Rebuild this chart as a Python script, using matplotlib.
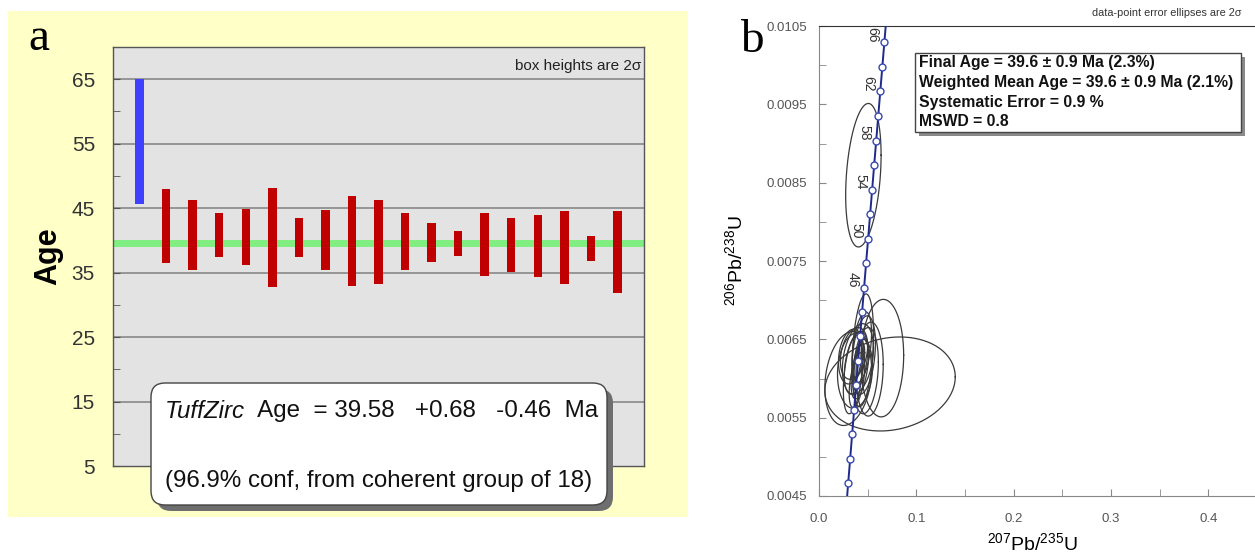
import numpy as np
import matplotlib
matplotlib.use('Agg')
import matplotlib.pyplot as plt
from matplotlib.patches import FancyBboxPatch, Rectangle
from matplotlib.transforms import IdentityTransform
from matplotlib.ticker import MultipleLocator, FormatStrFormatter

# ---- panel a: TuffZirc age boxes (2 sigma)
grain = list(range(1, 20))
age_hi = [65.1, 47.9, 46.3, 44.3, 44.8, 48.1, 43.4, 44.7, 46.9, 46.3,
          44.2, 42.7, 41.5, 44.2, 43.4, 44.0, 44.5, 40.7, 44.5]
age_lo = [45.6, 36.5, 35.4, 37.5, 36.2, 32.8, 37.5, 35.4, 32.9, 33.3,
          35.4, 36.7, 37.6, 34.5, 35.1, 34.3, 33.3, 36.8, 31.8]
rejected = [True] + [False] * 18
tuffzirc_age = 39.58

# ---- panel b: concordia (ages in Ma and ratios) and error ellipses
conc_age = [28, 30, 32, 34, 36, 38, 40, 42, 44, 46, 48, 50, 52, 54, 56, 58, 60, 62, 64, 66, 68]
conc_x = [0.02796, 0.02999, 0.03202, 0.03405, 0.03609, 0.03813, 0.04018, 0.04223, 0.04429,
          0.04635, 0.04841, 0.05048, 0.05255, 0.05462, 0.05670, 0.05878, 0.06087, 0.06296,
          0.06506, 0.06716, 0.06926]
conc_y = [0.004353, 0.004665, 0.004976, 0.005288, 0.005600, 0.005912, 0.006224, 0.006537,
          0.006849, 0.007161, 0.007474, 0.007786, 0.008099, 0.008412, 0.008725, 0.009038,
          0.009351, 0.009664, 0.009977, 0.010291, 0.010604]
conc_labels = [46, 50, 54, 58, 62, 66]

# ellipse centre, 2-sigma half widths and error correlation
ell_x = [0.0456, 0.073, 0.065, 0.045, 0.030, 0.040, 0.038, 0.042, 0.036, 0.048,
         0.052, 0.035, 0.033, 0.044, 0.039, 0.041, 0.046, 0.037, 0.040]
ell_y = [0.008595, 0.00593, 0.00626, 0.00636, 0.00600, 0.00625, 0.00620, 0.00612, 0.00632,
         0.00610, 0.00612, 0.00605, 0.00628, 0.00640, 0.00598, 0.00615, 0.00630, 0.00610, 0.00622]
ell_sx = [0.0182, 0.067, 0.022, 0.011, 0.024, 0.016, 0.012, 0.009, 0.014, 0.013,
          0.014, 0.010, 0.013, 0.010, 0.008, 0.006, 0.012, 0.018, 0.004]
ell_sy = [0.000916, 0.00060, 0.00075, 0.00072, 0.00060, 0.00045, 0.00040, 0.00038, 0.00033,
          0.00055, 0.00060, 0.00050, 0.00035, 0.00045, 0.00035, 0.00030, 0.00050, 0.00048, 0.00022]
ell_rho = [0.28, 0.15, 0.05, 0.3, 0.2, 0.3, 0.4, 0.5, 0.3, 0.2,
           0.1, 0.4, 0.2, 0.4, 0.5, 0.6, 0.3, 0.1, 0.6]

plt.rcParams['font.family'] = ['Liberation Sans', 'DejaVu Sans']
plt.rcParams['mathtext.fontset'] = 'custom'
plt.rcParams['mathtext.rm'] = 'Liberation Sans'
plt.rcParams['mathtext.it'] = 'Liberation Sans:italic'
plt.rcParams['mathtext.bf'] = 'Liberation Sans:bold'

W, H = 1255, 553
fig = plt.figure(figsize=(W / 100, H / 100), dpi=100)
px = IdentityTransform()
renderer = fig.canvas.get_renderer()


def fit(t, target):
    w = t.get_window_extent(renderer).width
    t.set_fontsize(t.get_fontsize() * target / w)


# yellow backdrop of panel a
fig.add_artist(Rectangle((8, H - 517), 680, 506, transform=px, fc='#FFFFC8', ec='none', zorder=-2))

# ================= panel a =================
ax1 = fig.add_axes([113 / W, 1 - 466 / H, (644 - 113) / W, (466 - 47) / H])
ax1.set_facecolor('#E3E3E3')
ax1.set_xlim(0, 20)
ax1.set_ylim(5, 70)
ax1.set_yticks([5, 15, 25, 35, 45, 55, 65])
ax1.yaxis.set_minor_locator(MultipleLocator(5))
ax1.set_xticks([])
ax1.tick_params(axis='y', which='both', direction='in', length=5, color='#555',
                labelsize=15, labelcolor='#333', pad=13)
for s in ax1.spines.values():
    s.set_color('#555')
    s.set_linewidth(1)
for g in [15, 25, 35, 45, 55, 65]:
    ax1.axhline(g, color='#808080', lw=1.1, zorder=1)
ax1.axhline(tuffzirc_age, color='#80EE80', lw=5, zorder=2)
heights = [h - l for h, l in zip(age_hi, age_lo)]
colors = ['#4040FF' if r else '#C00000' for r in rejected]
ax1.bar(grain, heights, bottom=age_lo, width=0.32, color=colors, zorder=3)
ax1.set_ylabel('Age', fontsize=22, fontweight='bold', labelpad=6)
ax1.text(0.995, 67.0, 'box heights are 2σ', ha='right', va='center',
         fontsize=11, color='#222', transform=ax1.get_yaxis_transform())

fig.text(28, H - 50, 'a', transform=px, family='Liberation Serif', fontsize=34, va='baseline')

# result box
fig.add_artist(FancyBboxPatch((157, H - 511), 456, 122, boxstyle='round,pad=0,rounding_size=14',
                              transform=px, fc='#6E6E6E', ec='none', zorder=4))
fig.add_artist(FancyBboxPatch((151, H - 505), 456, 122, boxstyle='round,pad=0,rounding_size=14',
                              transform=px, fc='white', ec='#444', lw=1, zorder=5))
l2 = fig.text(165, H - 481, '(96.9% conf, from coherent group of 18)', transform=px,
              fontsize=17, va='center', color='#111', zorder=6)
fit(l2, 428)
fs = l2.get_fontsize()
t_it = fig.text(165, H - 411, 'TuffZirc', transform=px, fontsize=fs, style='italic',
                va='center', color='#111', zorder=6)
x_next = t_it.get_window_extent(renderer).x1
fig.text(x_next, H - 411, '  Age  = 39.58   +0.68   -0.46  Ma', transform=px, fontsize=fs,
         va='center', color='#111', zorder=6)

# ================= panel b =================
ax2 = fig.add_axes([819 / W, 1 - 496 / H, (W - 819) / W, (496 - 26) / H])
ax2.set_xlim(0, 0.448)
ax2.set_ylim(0.0045, 0.0105)
ax2.set_yticks(np.arange(0.0045, 0.01051, 0.001))
ax2.yaxis.set_minor_locator(MultipleLocator(0.0005))
ax2.yaxis.set_major_formatter(FormatStrFormatter('%.4f'))
ax2.set_xticks([0.0, 0.1, 0.2, 0.3, 0.4])
ax2.xaxis.set_minor_locator(MultipleLocator(0.05))
ax2.xaxis.set_major_formatter(FormatStrFormatter('%.1f'))
ax2.tick_params(which='both', direction='in', length=5, color='#888',
                labelsize=9.5, labelcolor='#555')
ax2.tick_params(axis='y', pad=8.5)
ax2.tick_params(axis='x', pad=12)
ax2.spines['right'].set_visible(False)
ax2.spines['left'].set_color('#888')
ax2.spines['bottom'].set_color('#888')
ax2.spines['top'].set_color('#333')

tt = np.linspace(0, 2 * np.pi, 240)
for cx, cy, sx, sy, r in zip(ell_x, ell_y, ell_sx, ell_sy, ell_rho):
    ex = cx + sx * np.cos(tt)
    ey = cy + sy * (r * np.cos(tt) + np.sqrt(1 - r * r) * np.sin(tt))
    ax2.plot(ex, ey, color='#3a3a3a', lw=0.9, zorder=2)

ax2.plot(conc_x, conc_y, color='#1E2A8C', lw=1.4, zorder=3)
ax2.plot(conc_x, conc_y, 'o', ms=5, mfc='white', mec='#3848B0', mew=1, zorder=4)
for a, cx, cy in zip(conc_age, conc_x, conc_y):
    if a in conc_labels:
        ax2.text(cx - 0.012, cy + 0.0001, str(a), rotation=-90, fontsize=10,
                 ha='center', va='center', color='#333', zorder=4)

ax2.set_xlabel(r'${}^{207}\mathrm{Pb}/{}^{235}\mathrm{U}$', fontsize=14, va='center')
ax2.xaxis.set_label_coords(0.489, -0.1)
ax2.set_ylabel(r'${}^{206}\mathrm{Pb}/{}^{238}\mathrm{U}$', fontsize=14, va='center')
ax2.yaxis.set_label_coords(-0.193, 0.5)

fig.text(740, H - 52, 'b', transform=px, family='Liberation Serif', fontsize=34, va='baseline')

cap = fig.text(1241, H - 13, 'data-point error ellipses are 2σ', transform=px, fontsize=8,
               ha='right', va='center', color='#333')
fit(cap, 150)

# info box
fig.add_artist(Rectangle((919, H - 136), 326, 79, transform=px, fc='#8A8A8A', ec='none', zorder=4))
fig.add_artist(Rectangle((915, H - 132), 326, 79, transform=px, fc='white', ec='#444', lw=1, zorder=5))
info = ['Final Age = 39.6 \u00b1 0.9 Ma (2.3%)',
        'Weighted Mean Age = 39.6 \u00b1 0.9 Ma (2.1%)',
        'Systematic Error = 0.9 %',
        'MSWD = 0.8']
tx = []
for i, s in enumerate(info):
    tx.append(fig.text(919, H - (62 + 20 * i), s, transform=px, fontsize=12, fontweight='bold',
                       va='center', color='#111', zorder=6))
fit(tx[1], 314)
for t in tx:
    t.set_fontsize(tx[1].get_fontsize())

fig.savefig('out.png', dpi=100)
